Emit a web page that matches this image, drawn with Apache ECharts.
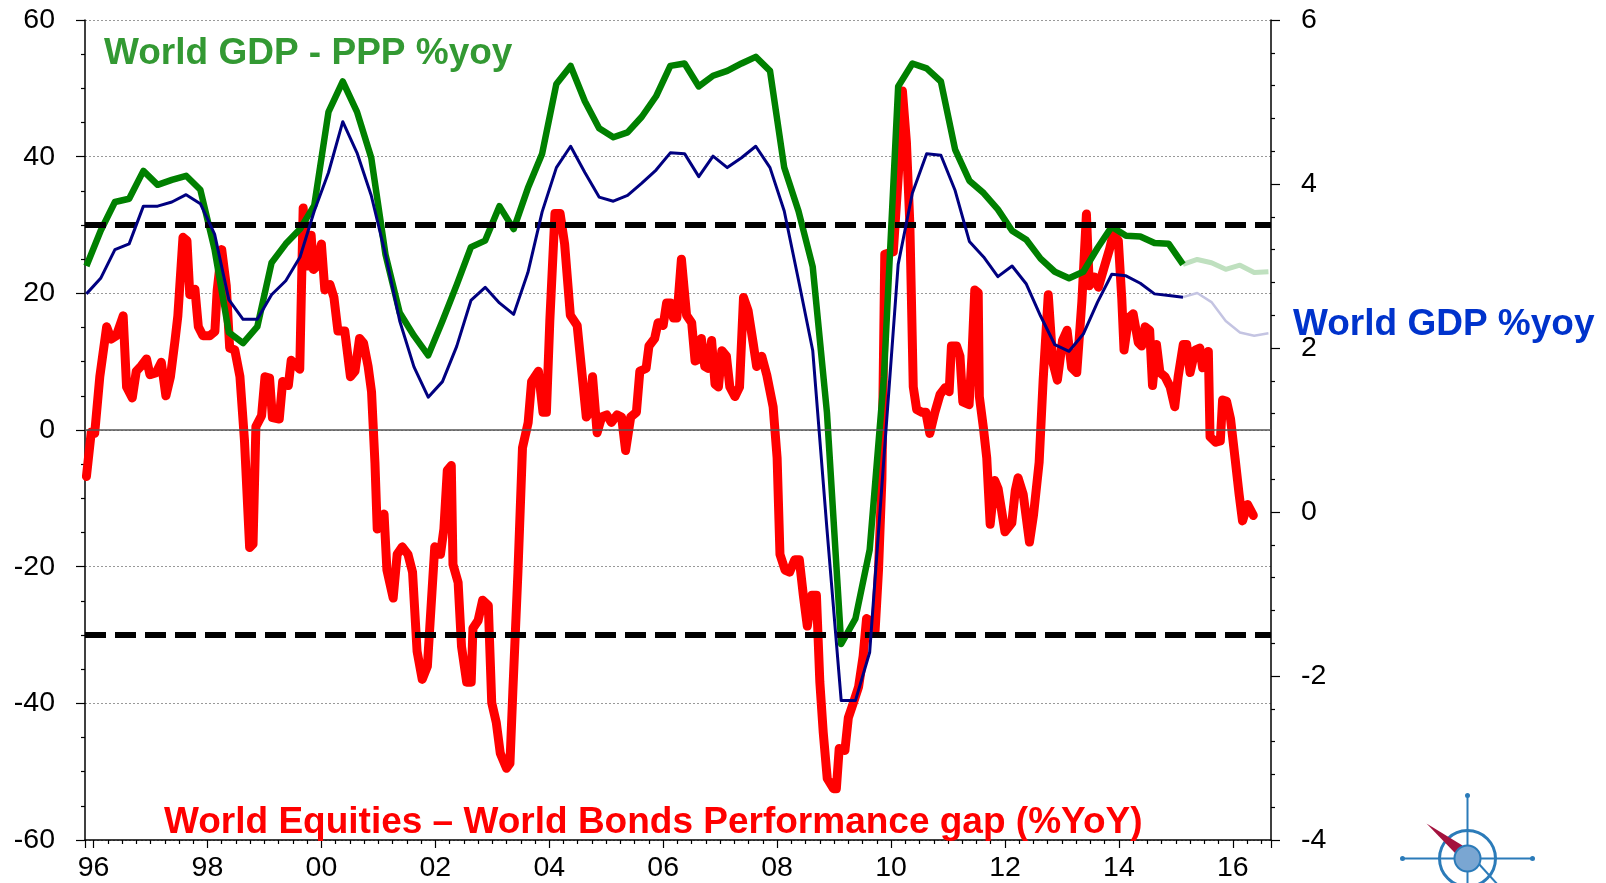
<!DOCTYPE html>
<html>
<head>
<meta charset="utf-8">
<title>World GDP vs World Equities - World Bonds</title>
<script src="https://cdn.jsdelivr.net/npm/echarts@6.0.0/dist/echarts.min.js"></script>
<style>
  html, body { margin: 0; padding: 0; background: #fff; }
  #chart { width: 1606px; height: 883px; }
</style>
</head>
<body>
<div id="chart"></div>
<script>
// World Equities - World Bonds performance gap (%YoY), left axis
const gapDates = [
  1995.875, 1995.96, 1996.02, 1996.11, 1996.23, 1996.31, 1996.40, 1996.52, 1996.58, 1996.68,
  1996.75, 1996.84, 1996.93, 1996.99, 1997.10, 1997.19, 1997.27, 1997.35, 1997.43, 1997.48,
  1997.57, 1997.64, 1997.69, 1997.78, 1997.84, 1997.92, 1998.04, 1998.13, 1998.17, 1998.25,
  1998.33, 1998.39, 1998.48, 1998.57, 1998.65, 1998.74, 1998.80, 1998.85, 1998.95, 1999.01,
  1999.09, 1999.14, 1999.26, 1999.32, 1999.42, 1999.47, 1999.62, 1999.68, 1999.76, 1999.82,
  1999.86, 1999.91, 2000.00, 2000.06, 2000.15, 2000.22, 2000.29, 2000.41, 2000.51, 2000.59,
  2000.67, 2000.74, 2000.82, 2000.88, 2000.94, 2000.98, 2001.10, 2001.15, 2001.26, 2001.33,
  2001.42, 2001.52, 2001.60, 2001.68, 2001.77, 2001.86, 2001.99, 2002.09, 2002.15, 2002.21,
  2002.28, 2002.31, 2002.40, 2002.46, 2002.55, 2002.63, 2002.66, 2002.75, 2002.83, 2002.93,
  2002.99, 2003.07, 2003.14, 2003.25, 2003.31, 2003.36, 2003.45, 2003.53, 2003.63, 2003.69,
  2003.81, 2003.89, 2003.95, 2004.01, 2004.10, 2004.19, 2004.27, 2004.37, 2004.49, 2004.58,
  2004.65, 2004.71, 2004.76, 2004.84, 2004.92, 2005.01, 2005.09, 2005.19, 2005.27, 2005.34,
  2005.43, 2005.53, 2005.59, 2005.70, 2005.75, 2005.85, 2005.91, 2006.00, 2006.06, 2006.13,
  2006.18, 2006.24, 2006.32, 2006.41, 2006.50, 2006.56, 2006.63, 2006.67, 2006.73, 2006.79,
  2006.85, 2006.91, 2006.97, 2007.03, 2007.11, 2007.17, 2007.26, 2007.34, 2007.41, 2007.49,
  2007.58, 2007.64, 2007.73, 2007.82, 2007.93, 2008.00, 2008.05, 2008.14, 2008.22, 2008.31,
  2008.39, 2008.46, 2008.53, 2008.61, 2008.69, 2008.75, 2008.81, 2008.88, 2008.99, 2009.04,
  2009.09, 2009.19, 2009.25, 2009.34, 2009.43, 2009.51, 2009.57, 2009.63, 2009.72, 2009.78,
  2009.84, 2009.89, 2010.04, 2010.13, 2010.20, 2010.27, 2010.33, 2010.39, 2010.45, 2010.54,
  2010.61, 2010.68, 2010.77, 2010.86, 2010.95, 2011.02, 2011.06, 2011.15, 2011.21, 2011.26,
  2011.37, 2011.42, 2011.47, 2011.53, 2011.55, 2011.62, 2011.68, 2011.74, 2011.82, 2011.88,
  2012.00, 2012.12, 2012.18, 2012.23, 2012.32, 2012.43, 2012.50, 2012.60, 2012.67, 2012.76,
  2012.84, 2012.92, 2013.01, 2013.09, 2013.17, 2013.26, 2013.35, 2013.43, 2013.48, 2013.57,
  2013.64, 2013.73, 2013.84, 2013.90, 2013.99, 2014.05, 2014.09, 2014.17, 2014.25, 2014.34,
  2014.40, 2014.46, 2014.54, 2014.59, 2014.66, 2014.72, 2014.81, 2014.90, 2014.98, 2015.04,
  2015.13, 2015.19, 2015.25, 2015.34, 2015.42, 2015.47, 2015.57, 2015.60, 2015.70, 2015.78,
  2015.82, 2015.89, 2015.96, 2016.04, 2016.11, 2016.17, 2016.26, 2016.36
];
const gapValues = [
  -6.8, -0.3, -0.5, 7.8, 15.1, 13.3, 13.8, 16.7, 6.3, 4.7,
  8.6, 9.4, 10.4, 8.1, 8.4, 9.9, 5.0, 7.8, 13.1, 16.7,
  28.2, 27.7, 19.8, 20.6, 15.1, 13.8, 13.8, 14.4, 20.4, 26.4,
  21.1, 12.0, 11.7, 7.8, -1.6, -17.2, -16.7, 0.5, 2.1, 7.8,
  7.6, 1.8, 1.6, 7.1, 6.5, 10.2, 8.9, 32.5, 24.0, 28.5,
  23.5, 23.9, 27.2, 20.5, 21.3, 19.4, 14.5, 14.5, 7.8, 8.6,
  13.4, 12.7, 9.3, 5.6, -4.8, -14.5, -12.3, -20.5, -24.6, -18.2,
  -17.1, -18.2, -20.8, -32.4, -36.5, -34.6, -17.1, -18.2, -14.5, -5.9,
  -5.2, -19.7, -22.3, -31.7, -36.9, -36.9, -29.0, -27.9, -24.9, -25.7,
  -39.9, -42.8, -47.3, -49.5, -48.8, -38.4, -20.8, -2.6, 1.1, 7.1,
  8.6, 2.6, 2.6, 16.0, 31.7, 31.7, 27.2, 16.8, 15.3, 7.8,
  1.9, 2.6, 7.8, -0.4, 1.9, 2.2, 1.1, 2.2, 1.9, -3.0,
  1.9, 2.6, 8.6, 9.0, 12.3, 13.4, 15.7, 15.3, 18.6, 18.6,
  16.4, 16.4, 25.0, 16.8, 15.7, 10.1, 10.4, 13.4, 9.3, 9.0,
  13.1, 6.7, 6.3, 11.6, 10.8, 6.3, 4.9, 6.3, 19.4, 17.5,
  12.7, 9.3, 10.8, 8.0, 3.4, -4.1, -18.2, -20.5, -20.8, -19.0,
  -19.0, -24.2, -28.7, -24.2, -24.2, -36.9, -44.3, -51.0, -52.5, -52.5,
  -46.6, -46.9, -42.1, -39.9, -37.6, -33.1, -27.6, -27.9, -29.4, -20.5,
  -7.1, 25.7, 26.1, 37.6, 49.6, 42.1, 30.2, 6.3, 3.0, 2.6,
  2.6, -0.5, 2.6, 5.2, 6.2, 5.6, 12.3, 12.3, 10.8, 4.1,
  3.7, 10.8, 20.5, 20.1, 4.9, 0.4, -4.1, -13.8, -7.4, -8.6,
  -14.9, -13.6, -8.9, -7.0, -9.4, -16.4, -12.5, -4.7, 7.3, 19.8,
  9.9, 7.3, 13.1, 14.6, 9.1, 8.4, 18.8, 31.6, 21.1, 22.4,
  20.9, 23.5, 26.6, 28.7, 27.7, 19.3, 11.7, 16.4, 17.0, 12.8,
  12.3, 15.1, 14.6, 6.5, 12.5, 8.4, 7.8, 6.3, 3.4, 7.8,
  12.5, 12.5, 8.4, 11.7, 12.0, 9.1, 11.5, -1.0, -1.8, -1.6,
  4.4, 4.2, 1.6, -4.2, -9.4, -13.3, -10.9, -12.5
];

// quarterly GDP growth, right axis (first quarter plotted at 1995.875)
const quarterStart = 1995.875;
const gdpPPP = [
  3.00, 3.43, 3.78, 3.82, 4.16, 3.99, 4.05, 4.10, 3.93, 3.20,
  2.19, 2.06, 2.26, 3.04, 3.27, 3.45, 3.74, 4.88, 5.25, 4.88,
  4.32, 3.14, 2.43, 2.15, 1.91, 2.33, 2.77, 3.23, 3.31, 3.73,
  3.45, 3.95, 4.37, 5.22, 5.44, 5.01, 4.68, 4.57, 4.63, 4.82,
  5.07, 5.44, 5.47, 5.19, 5.32, 5.38, 5.47, 5.55, 5.38, 4.20,
  3.67, 2.99, 1.21, -1.61, -1.30, -0.46, 1.65, 5.19, 5.47, 5.41,
  5.25, 4.42, 4.04, 3.89, 3.69, 3.43, 3.32, 3.09, 2.93, 2.85,
  2.93, 3.22, 3.48, 3.37, 3.36, 3.28, 3.27, 3.02
];
const gdpPPPForecast = [3.02, 3.08, 3.04, 2.96, 3.01, 2.92, 2.93];
const gdpMkt = [
  2.66, 2.85, 3.20, 3.27, 3.73, 3.73, 3.78, 3.87, 3.76, 3.39,
  2.59, 2.35, 2.35, 2.65, 2.82, 3.11, 3.67, 4.14, 4.76, 4.38,
  3.86, 3.14, 2.33, 1.77, 1.40, 1.59, 2.02, 2.58, 2.74, 2.55,
  2.41, 2.92, 3.66, 4.20, 4.46, 4.14, 3.84, 3.79, 3.86, 4.01,
  4.17, 4.38, 4.37, 4.09, 4.34, 4.20, 4.32, 4.46, 4.20, 3.67,
  2.83, 1.97, -0.21, -2.30, -2.30, -1.71, 0.66, 3.02, 3.89, 4.37,
  4.35, 3.92, 3.30, 3.11, 2.87, 3.00, 2.78, 2.39, 2.04, 1.96,
  2.17, 2.56, 2.90, 2.88, 2.79, 2.66, 2.64, 2.62
];
const gdpMktForecast = [2.62, 2.67, 2.56, 2.33, 2.19, 2.15, 2.18];

const bandLevels = [30, -30];

const FONT = '"Liberation Sans", Arial, sans-serif';

const quarterOf = (k) => +(quarterStart + k * 0.25).toFixed(3);
const toPairs = (vals, offset) => vals.map((v, i) => [quarterOf(offset + i), v]);
const lastActual = gdpPPP.length - 1;

const chart = echarts.init(document.getElementById('chart'), null, { renderer: 'canvas' });

chart.setOption({
  animation: false,
  backgroundColor: '#fff',
  grid: { left: 85, right: 335, top: 20, bottom: 41.5 },
  xAxis: {
    type: 'value',
    min: 1995.85,
    max: 2016.67,
    splitNumber: 10,
    axisLine: { onZero: false, lineStyle: { color: '#000', width: 1.5 } },
    axisTick: { length: 8, lineStyle: { color: '#000', width: 1.2 } },
    minorTick: { show: true, splitNumber: 8, length: 4, lineStyle: { color: '#000', width: 1.2 } },
    splitLine: { show: false },
    axisLabel: {
      color: '#000', fontSize: 28.5, fontFamily: FONT, margin: 14,
      showMinLabel: false, showMaxLabel: false,
      formatter: (v) => String(Math.round(v) % 100).padStart(2, '0'),
    },
  },
  yAxis: [
    {
      type: 'value',
      min: -60, max: 60, interval: 20,
      axisLine: { show: true, onZero: false, lineStyle: { color: '#000', width: 1.5 } },
      axisTick: { show: true, length: 9, lineStyle: { color: '#000', width: 1.2 } },
      minorTick: { show: true, splitNumber: 4, length: 4, lineStyle: { color: '#000', width: 1.2 } },
      splitLine: { show: true, lineStyle: { color: '#999', width: 1, type: [2, 2] } },
      axisLabel: { color: '#000', fontSize: 28.5, fontFamily: FONT, margin: 30 },
    },
    {
      type: 'value',
      min: -4, max: 6, interval: 2,
      position: 'right',
      axisLine: { show: true, onZero: false, lineStyle: { color: '#000', width: 1.5 } },
      axisTick: { show: true, length: 9, lineStyle: { color: '#000', width: 1.2 } },
      minorTick: { show: true, splitNumber: 5, length: 4, lineStyle: { color: '#000', width: 1.2 } },
      splitLine: { show: false },
      axisLabel: { color: '#000', fontSize: 28.5, fontFamily: FONT, margin: 30 },
    },
  ],
  series: [
    {
      // reference lines: zero line and the +/-30 bands
      type: 'line',
      data: [],
      z: 1,
      markLine: {
        silent: true,
        symbol: 'none',
        label: { show: false },
        animation: false,
        data: [
          { yAxis: 0, lineStyle: { color: '#555', width: 1.5, type: 'solid' } },
          ...bandLevels.map((v) => ({ yAxis: v, lineStyle: { color: '#000', width: 6, type: [21, 9] } })),
        ],
      },
    },
    {
      name: 'World Equities - World Bonds',
      type: 'line',
      yAxisIndex: 0,
      z: 2,
      showSymbol: false,
      data: gapDates.map((t, i) => [t, gapValues[i]]),
      lineStyle: { color: '#ff0000', width: 9, join: 'round', cap: 'round' },
    },
    {
      name: 'World GDP - PPP forecast',
      type: 'line',
      yAxisIndex: 1,
      z: 3,
      showSymbol: false,
      data: toPairs(gdpPPPForecast, lastActual),
      lineStyle: { color: '#bfe0bf', width: 5, join: 'round' },
    },
    {
      name: 'World GDP forecast',
      type: 'line',
      yAxisIndex: 1,
      z: 3,
      showSymbol: false,
      data: toPairs(gdpMktForecast, lastActual),
      lineStyle: { color: '#c4c4e2', width: 2.5, join: 'round' },
    },
    {
      name: 'World GDP - PPP',
      type: 'line',
      yAxisIndex: 1,
      z: 4,
      showSymbol: false,
      data: toPairs(gdpPPP, 0),
      lineStyle: { color: '#008000', width: 6.5, join: 'round' },
    },
    {
      name: 'World GDP',
      type: 'line',
      yAxisIndex: 1,
      z: 5,
      showSymbol: false,
      data: toPairs(gdpMkt, 0),
      lineStyle: { color: '#000080', width: 3, join: 'round' },
    },
  ],
  graphic: [
    {
      type: 'text', left: 104, top: 35, z: 10,
      style: { text: 'World GDP - PPP %yoy', fill: '#339933', font: 'bold 37px ' + FONT },
    },
    {
      type: 'text', left: 1293, top: 306, z: 10,
      style: { text: 'World GDP %yoy', fill: '#0033cc', font: 'bold 37px ' + FONT },
    },
    {
      type: 'text', left: 164, top: 804, z: 10,
      style: { text: 'World Equities – World Bonds Performance gap (%YoY)', fill: '#ff0000', font: 'bold 37px ' + FONT },
    },
    {
      // compass logo
      type: 'group', left: 1400, top: 793, z: 10,
      children: [
        { type: 'line', shape: { x1: 2, y1: 65, x2: 132, y2: 65 }, style: { stroke: '#2b7bb9', lineWidth: 2 } },
        { type: 'line', shape: { x1: 67, y1: 2, x2: 67, y2: 95 }, style: { stroke: '#2b7bb9', lineWidth: 2 } },
        { type: 'circle', shape: { cx: 2, cy: 65, r: 2.5 }, style: { fill: '#2b7bb9' } },
        { type: 'circle', shape: { cx: 132, cy: 65, r: 2.5 }, style: { fill: '#2b7bb9' } },
        { type: 'circle', shape: { cx: 67, cy: 2, r: 2.5 }, style: { fill: '#2b7bb9' } },
        { type: 'circle', shape: { cx: 67, cy: 65, r: 28 }, style: { fill: 'none', stroke: '#2b7bb9', lineWidth: 3 } },
        { type: 'polyline', shape: { points: [[78, 70], [98, 92]] }, style: { stroke: '#2b7bb9', lineWidth: 2 } },
        { type: 'polygon', shape: { points: [[26, 30], [62, 52], [55, 60]] }, style: { fill: '#a3123e' } },
        { type: 'circle', shape: { cx: 67, cy: 65, r: 13 }, style: { fill: '#7aa6d2', stroke: '#2b7bb9', lineWidth: 2 } },
      ],
    },
  ],
});
</script>
</body>
</html>
